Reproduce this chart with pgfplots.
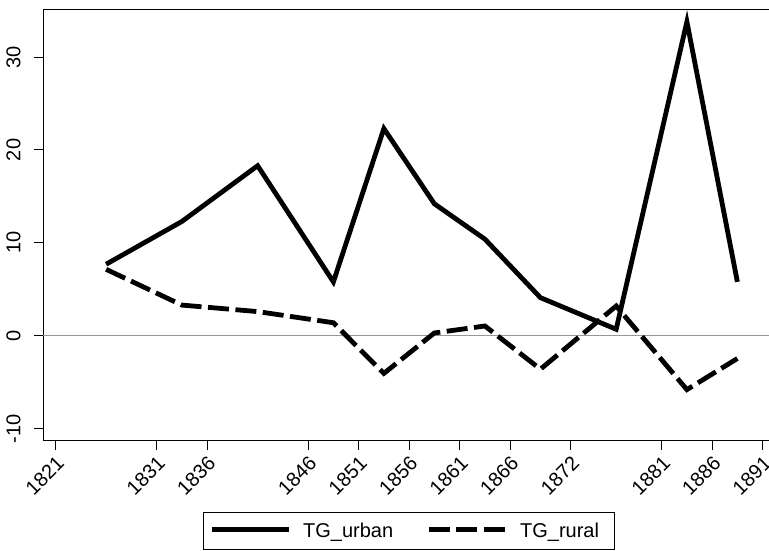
\documentclass[border=0pt]{standalone}
\usepackage{fontspec}
\setmainfont{Liberation Sans}
\usepackage{pgfplots}
\pgfplotsset{compat=1.18}
\definecolor{zerogray}{RGB}{150,150,150}
\newcommand{\bigf}{\fontsize{20}{24}\selectfont}
\begin{document}
\begin{tikzpicture}
\begin{axis}[
  at={(43pt,110pt)}, anchor=south west,
  scale only axis, width=725.7pt, height=431.6pt,
  xmin=1819.75, xmax=1891.6, ymin=-11.33, ymax=35.13,
  axis x line=box, axis y line=left,
  axis line style={-, line width=1pt, black},
  xtick pos=bottom, ytick pos=left,
  xtick={1821,1831,1836,1846,1851,1856,1861,1866,1872,1881,1886,1891},
  ytick={-10,0,10,20,30},
  tick align=outside, major tick length=9pt,
  tick style={line width=1pt, black},
  /pgf/number format/assume math mode=true,
  /pgf/number format/1000 sep={},
  tick label style={font=\bigf},
  xticklabel style={font=\bigf, inner sep=0pt, xshift=5pt, yshift=-10pt, rotate=45, anchor=east},
  yticklabel style={font=\bigf, inner sep=0pt, xshift=-13.3pt, rotate=90, anchor=south},
  legend columns=2,
  legend style={at={(0.504,-0.209)}, anchor=center, draw=black, line width=1pt,
    inner xsep=0pt, inner ysep=0pt, column sep=0pt, row sep=0pt,
    font=\bigf},
  legend image code/.code={
    \path[draw=none, fill=none] (-8.3pt,-18.35pt) rectangle (89.4pt,18.35pt);
    \draw[#1] (0pt,2pt) -- (77pt,2pt);
  },
  clip=false,
]
\addplot[zerogray, line width=1pt, forget plot] coordinates {(1819.75,0) (1891.6,0)};
\addplot[black, line width=4.8pt, line cap=butt, line join=miter] coordinates {
  (1826,7.7) (1833.5,12.3) (1841,18.3) (1848.5,5.8) (1853.5,22.3) (1858.5,14.2)
  (1863.5,10.4) (1869,4.1) (1876.5,0.7) (1883.5,33.8) (1888.5,5.8)};
\addlegendentry{\makebox[115.3pt][l]{TG\_urban}}
\addplot[black, line width=4.8pt, line cap=butt, line join=miter, dash pattern=on 21pt off 6.5pt] coordinates {
  (1826,7.15) (1833.5,3.3) (1841,2.6) (1848.5,1.4) (1853.5,-4.05) (1858.5,0.3)
  (1863.5,1.05) (1869,-3.6) (1876.5,3.2) (1883.5,-5.8) (1888.5,-2.45)};
\addlegendentry{\makebox[92pt][l]{TG\_rural}}
\end{axis}
\pgfresetboundingbox
\path (0,0) rectangle (769pt,551pt);
\end{tikzpicture}
\end{document}
